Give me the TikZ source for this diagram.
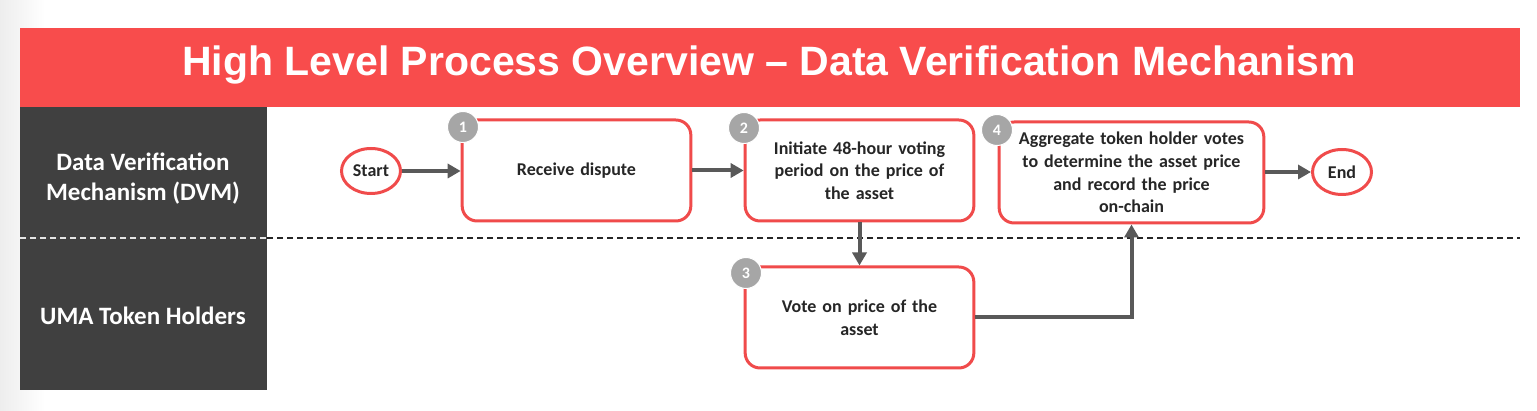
\documentclass[tikz,border=0pt]{standalone}
\usepackage{fontspec}
\setmainfont{Carlito}
\newfontfamily\titlefont{Liberation Sans}
\usetikzlibrary{arrows.meta,shapes.geometric}
\definecolor{umared}{HTML}{F84C4C}
\definecolor{boxred}{HTML}{F04B4B}
\definecolor{lanegray}{HTML}{404040}
\definecolor{badgegray}{HTML}{A6A6A6}
\definecolor{arrowgray}{HTML}{595959}
\definecolor{txtgray}{HTML}{262626}
\begin{document}
\begin{tikzpicture}[x=1pt,y=-1pt,
    stepbox/.style={draw=boxred,line width=3pt,fill=white,rounded corners=15pt,
        minimum width=226pt,minimum height=101pt,text width=222pt,align=center,
        font=\fontsize{18}{22.7}\selectfont\bfseries,text=txtgray},
    terminal/.style={draw=boxred,line width=3pt,fill=white,ellipse,
        minimum width=59pt,minimum height=45pt,inner sep=0pt,
        font=\fontsize{18}{20}\selectfont\bfseries,text=txtgray},
    badge/.style={circle,fill=badgegray,draw=white,line width=1pt,minimum size=31pt,inner sep=0pt,
        text=white,font=\fontsize{16}{16}\selectfont\bfseries},
    flow/.style={draw=arrowgray,line width=4pt,-{Triangle[length=13pt,width=14pt]}},
    lane/.style={text=white,align=center,font=\fontsize{25}{30}\selectfont\bfseries}]
\useasboundingbox (0,0) rectangle (1537,411);
\fill[white] (0,0) rectangle (1537,411);
\shade[left color=black!7,right color=white] (0,0) rectangle (45,411);
% title bar and swimlane column
\fill[umared] (20,28) rectangle (1520,107);
\node[text=white,font=\fontsize{41}{44}\selectfont\titlefont\bfseries] (title) at (769,65)
    {High Level Process Overview \textendash{} Data Verification Mechanism};
\fill[lanegray] (20,107) rectangle (267,390);
\node[lane] (dvm) at (143,179) {Data Verification\\Mechanism (DVM)};
\node[lane] (uma) at (143,316) {UMA Token Holders};
\draw[white!80!gray,line width=1.5pt,dash pattern=on 6pt off 4pt] (20,238) -- (267,238);
\draw[black!85,line width=1.5pt,dash pattern=on 6pt off 4pt] (267,238) -- (1520,238);
% process steps
\node[terminal] (start) at (371,171) {Start};
\node[stepbox] (recv) at (576.5,170.5) {Receive dispute};
\node[stepbox] (init) at (859.5,170.5) {Initiate 48-hour voting\\period on the price of\\the asset};
\node[stepbox] (vote) at (859.5,317.5) {Vote on price of the\\asset};
\node[stepbox,minimum width=264pt,text width=258pt] (aggr) at (1131.5,172.5)
    {Aggregate token holder votes\\to determine the asset price\\and record the price\\on-chain};
\node[terminal] (end) at (1342,172) {End};
\node[badge] at (463,127) {1};
\node[badge] at (744,128) {2};
\node[badge] at (746,273) {3};
\node[badge] at (997,130) {4};
% connectors
\draw[flow] (start.east) -- (start.east -| recv.west);
\draw[flow] (recv) -- (init);
\draw[flow] (init) -- (vote);
\draw[flow,rounded corners=0pt] (vote.east) -| (aggr.south);
\draw[flow] (aggr.east |- end.west) -- (end.west);
\end{tikzpicture}
\end{document}
